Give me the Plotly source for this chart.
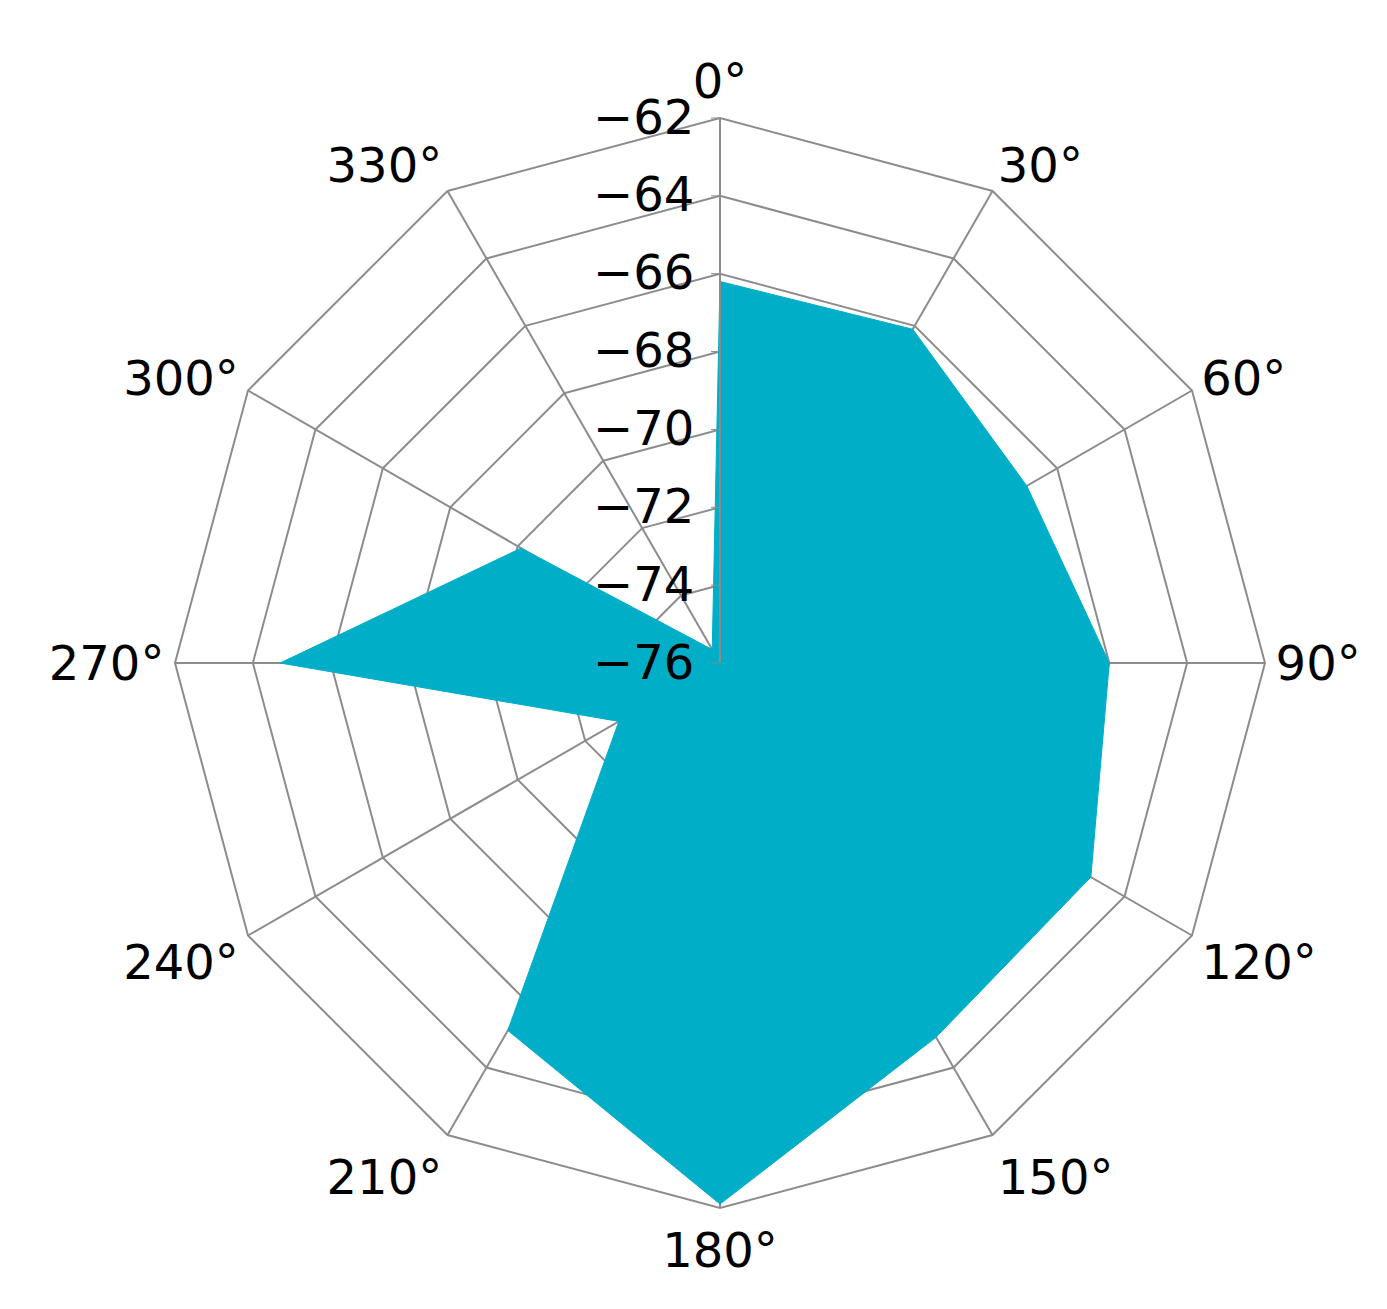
import plotly.graph_objects as go

# Direction and measured level
angle_labels = ["0°", "30°", "60°", "90°", "120°", "150°", "180°", "210°", "240°", "270°", "300°", "330°"]
values = [-66.2, -66.1, -66.9, -66.0, -65.0, -64.9, -62.1, -65.1, -73.0, -64.7, -70.1, -75.6]
radial_ticks = [-76, -74, -72, -70, -68, -66, -64, -62]

fig = go.Figure(go.Scatterpolar(
    r=values + values[:1],
    theta=angle_labels + angle_labels[:1],
    mode='lines',
    fill='toself',
    fillcolor='#00AEC7',
    line=dict(color='#00AEC7', width=1),
    showlegend=False,
))

fig.update_layout(
    width=1387, height=1309,
    margin=dict(l=167, r=130, t=110, b=109),
    paper_bgcolor='white',
    font=dict(family='DejaVu Sans', size=48, color='black'),
    polar=dict(
        bgcolor='white',
        gridshape='linear',
        angularaxis=dict(
            direction='clockwise', rotation=90,
            gridcolor='#8c8c8c', linecolor='#8c8c8c', linewidth=2, gridwidth=2,
            ticks='',
        ),
        radialaxis=dict(
            range=[-76, -62], tickvals=radial_ticks,
            angle=90, tickangle=90, side='counterclockwise',
            gridcolor='#8c8c8c', gridwidth=2, linecolor='#8c8c8c', linewidth=2,
            ticks='outside', ticklen=8, tickcolor='#8c8c8c',
        ),
    ),
)

fig.write_html("out.html")
